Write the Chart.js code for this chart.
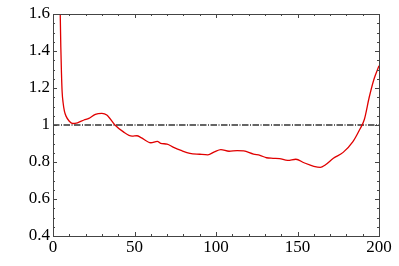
<!DOCTYPE html>
<html>
<head>
<meta charset="utf-8">
<script src="https://cdn.jsdelivr.net/npm/chart.js@4.4.1/dist/chart.umd.min.js"></script>
<style>
  html, body { margin: 0; padding: 0; background: #fff; }
  #wrap { width: 399px; height: 266px; }
</style>
</head>
<body>
<div id="wrap"><canvas id="chart"></canvas></div>
<script>
// values
const xs = [4.4, 4.8, 5.2, 5.6, 6.2, 7, 8, 10, 12, 15, 19, 22, 26, 30, 33, 38, 43, 48.5, 51.5, 54,
  60, 64, 66, 70, 74, 79, 84, 90, 95, 99, 103, 108, 113, 117, 123, 127, 131, 135, 139, 144,
  149, 154, 160, 164, 167, 172, 178, 184, 188, 191, 194, 197, 200];
const ratio = [1.62, 1.42, 1.28, 1.18, 1.12, 1.075, 1.048, 1.02, 1.008, 1.012, 1.027, 1.036, 1.058, 1.063, 1.054, 1.0, 0.964, 0.94, 0.942, 0.932,
  0.904, 0.912, 0.901, 0.897, 0.879, 0.861, 0.847, 0.842, 0.839, 0.855, 0.867, 0.858, 0.862, 0.86, 0.843, 0.836, 0.823, 0.82, 0.818, 0.809,
  0.815, 0.796, 0.777, 0.771, 0.784, 0.82, 0.852, 0.91, 0.973, 1.03, 1.15, 1.25, 1.32];
const refX = [0, 200];
const refY = [1, 1];

const axisColor = '#444';

// frame + inward ticks on all four sides
const frameTicks = {
  id: 'frameTicks',
  afterDraw(chart) {
    const { ctx, chartArea: a, scales: { x, y } } = chart;
    ctx.save();
    ctx.strokeStyle = axisColor;
    ctx.lineWidth = 1;
    ctx.strokeRect(Math.round(a.left) + 0.5, Math.round(a.top) + 0.5,
      Math.round(a.right - a.left), Math.round(a.bottom - a.top));
    ctx.beginPath();
    for (let v = 0; v <= 200; v += 10) {
      const px = Math.round(x.getPixelForValue(v)) + 0.5;
      const len = v % 50 === 0 ? 4 : 2;
      ctx.moveTo(px, a.bottom); ctx.lineTo(px, a.bottom - len);
      ctx.moveTo(px, a.top); ctx.lineTo(px, a.top + len);
    }
    for (let i = 0; i <= 24; i++) {
      const v = 0.4 + i * 0.05;
      const py = Math.round(y.getPixelForValue(v)) + 0.5;
      const len = i % 4 === 0 ? 4 : 2;
      ctx.moveTo(a.left, py); ctx.lineTo(a.left + len, py);
      ctx.moveTo(a.right, py); ctx.lineTo(a.right - len, py);
    }
    ctx.stroke();
    ctx.restore();
  }
};

Chart.defaults.font.family = 'Liberation Serif';
const tickFont = { family: 'Liberation Serif', size: 17 };

new Chart(document.getElementById('chart'), {
  type: 'line',
  data: {
    datasets: [
      {
        data: xs.map((v, i) => ({ x: v, y: ratio[i] })),
        borderColor: '#e00000',
        borderWidth: 1.3,
        pointRadius: 0,
        cubicInterpolationMode: 'monotone',
        fill: false
      },
      {
        data: refX.map((v, i) => ({ x: v, y: refY[i] })),
        borderColor: '#333',
        borderWidth: 1.3,
        borderDash: [6.5, 1.5, 1, 1.5],
        pointRadius: 0,
        fill: false
      }
    ]
  },
  options: {
    responsive: true,
    maintainAspectRatio: false,
    animation: false,
    layout: { padding: { left: 0, right: 20, top: 14, bottom: 0 } },
    plugins: { legend: { display: false }, tooltip: { enabled: false } },
    scales: {
      x: {
        type: 'linear',
        min: 0, max: 200,
        grid: { display: false, drawTicks: false },
        border: { display: false },
        ticks: { stepSize: 50, color: '#000', font: tickFont, padding: 1, maxRotation: 0 },
        afterFit(s) { s.height = 30; }
      },
      y: {
        type: 'linear',
        min: 0.4, max: 1.6,
        grid: { display: false, drawTicks: false },
        border: { display: false },
        ticks: {
          stepSize: 0.2, color: '#000', font: tickFont, padding: 3,
          callback: v => String(Number(v.toFixed(2)))
        },
        afterFit(s) { s.width = 53; }
      }
    }
  },
  plugins: [frameTicks]
});
</script>
</body>
</html>
